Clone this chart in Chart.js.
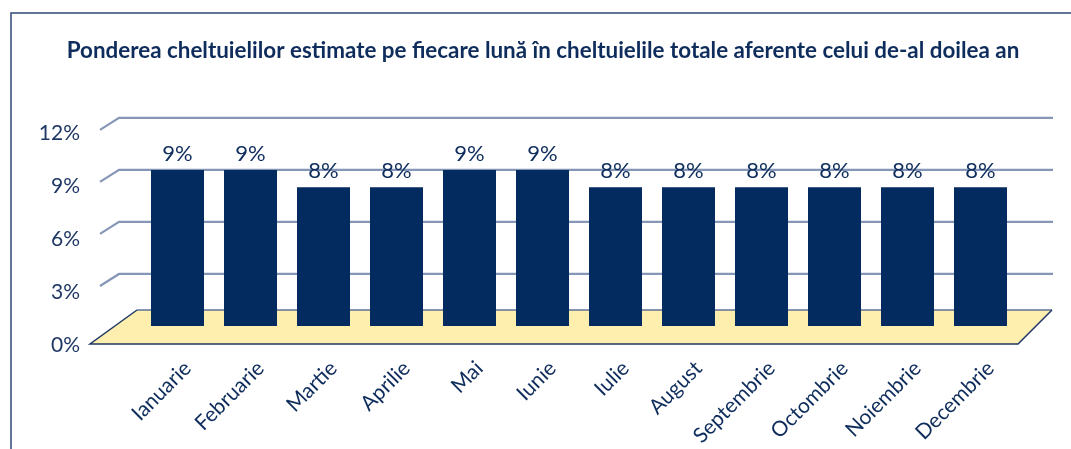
<!DOCTYPE html>
<html>
<head>
<meta charset="utf-8">
<script src="https://cdn.jsdelivr.net/npm/chart.js@4/dist/chart.umd.min.js"></script>
<style>
  html, body { margin: 0; padding: 0; background: #fff; }
  #wrap { width: 1071px; height: 449px; }
</style>
</head>
<body>
<div id="wrap"><canvas id="barChart"></canvas></div>
<script>
// DATA #######################################################################

var months = ["Ianuarie", "Februarie", "Martie", "Aprilie", "Mai", "Iunie",
              "Iulie", "August", "Septembrie", "Octombrie", "Noiembrie",
              "Decembrie"];
var shares = [9, 9, 8, 8, 9, 9, 8, 8, 8, 8, 8, 8];
var yTicks = [0, 3, 6, 9, 12];
var chartTitle = "Ponderea cheltuielilor estimate pe fiecare lună în cheltuielile totale aferente celui de-al doilea an";

var navy = "#0f2d5c";
var barColor = "#032b5f";
var gridColor = "#8596b6";

// 3D look: back wall, floor, labels ##########################################

var wall3d = {
    id: "wall3d",
    beforeDatasetsDraw: function (chart) {
        var ctx = chart.ctx;
        var area = chart.chartArea;
        var y = chart.scales.y;
        var y0 = y.getPixelForValue(0);

        ctx.save();

        // frame (only top and left edges are visible)
        ctx.strokeStyle = "#2f4a78";
        ctx.lineWidth = 1.5;
        ctx.beginPath();
        ctx.moveTo(11, 449);
        ctx.lineTo(11, 13);
        ctx.lineTo(1071, 13);
        ctx.stroke();

        // back wall gridlines + side wall slants
        ctx.strokeStyle = gridColor;
        ctx.lineWidth = 2.2;
        yTicks.forEach(function (v) {
            if (v === 0) return;
            var py = y.getPixelForValue(v);
            ctx.beginPath();
            ctx.moveTo(area.left - 41, py + 12);
            ctx.lineTo(area.left - 22, py);
            ctx.lineTo(area.right + 36, py);
            ctx.stroke();
        });

        // floor
        var back = y0 - 16, front = y0 + 18;
        ctx.fillStyle = "#ffefae";
        ctx.beginPath();
        ctx.moveTo(area.left - 4, back);
        ctx.lineTo(area.right + 35, back);
        ctx.lineTo(area.right + 1, front);
        ctx.lineTo(area.left - 51, front);
        ctx.closePath();
        ctx.fill();

        ctx.lineWidth = 1.5;
        ctx.strokeStyle = "#5d7196";
        ctx.beginPath();
        ctx.moveTo(area.left - 4, back);
        ctx.lineTo(area.right + 35, back);
        ctx.stroke();

        ctx.strokeStyle = "#1f3864";
        ctx.beginPath();
        ctx.moveTo(area.right + 35, back);
        ctx.lineTo(area.right + 1, front);
        ctx.lineTo(area.left - 51, front);
        ctx.lineTo(area.left - 4, back);
        ctx.stroke();

        ctx.restore();
    },
    afterDatasetsDraw: function (chart) {
        var ctx = chart.ctx;
        var y = chart.scales.y;
        var meta = chart.getDatasetMeta(0);

        ctx.save();
        ctx.fillStyle = navy;

        // value labels above the bars
        ctx.font = "22px Lato";
        ctx.textAlign = "center";
        ctx.textBaseline = "middle";
        meta.data.forEach(function (bar, i) {
            ctx.fillText(shares[i] + "%", bar.x, bar.y - 16);
        });

        // value axis labels on the front edge
        ctx.font = "21px Lato";
        ctx.fillStyle = "#1f3864";
        ctx.textAlign = "right";
        yTicks.forEach(function (v) {
            var py = y.getPixelForValue(v) + 15 + (12 - v) / 3;
            ctx.fillText(v + "%", 80, py);
        });
        ctx.restore();
    }
};

// BAR CHART ##################################################################

var ctx_bar = document.getElementById("barChart");

var data = {
    labels: months,
    datasets: [
        {
            label: "Pondere",
            data: shares,
            backgroundColor: barColor,
            borderWidth: 0,
            barPercentage: 0.726,
            categoryPercentage: 1.0
        }
    ]
};

var barChart = new Chart(ctx_bar, {
    type: "bar",
    data: data,
    plugins: [wall3d],
    options: {
        responsive: true,
        maintainAspectRatio: false,
        animation: false,
        layout: {
            padding: { left: 15, right: 0, top: 0, bottom: 0 }
        },
        plugins: {
            legend: { display: false },
            tooltip: { enabled: false },
            title: {
                display: true,
                text: chartTitle,
                color: navy,
                font: { family: "Lato", size: 22.4, weight: "bold" },
                padding: { top: 37, bottom: 54 }
            }
        },
        scales: {
            x: {
                grid: { display: false },
                border: { display: false },
                ticks: {
                    color: navy,
                    font: { family: "Lato", size: 21 },
                    minRotation: 45,
                    maxRotation: 45,
                    padding: 22,
                    labelOffset: 10
                },
                afterFit: function (scale) {
                    scale.height = 123;
                }
            },
            y: {
                min: 0,
                max: 12,
                grid: { display: false },
                border: { display: false },
                ticks: { display: false, stepSize: 3 },
                afterFit: function (scale) {
                    scale.width = 126;
                }
            },
            // empty right-hand axis, only keeps room for the side of the floor
            y2: {
                position: "right",
                grid: { display: false },
                border: { display: false },
                ticks: { display: false },
                afterFit: function (scale) {
                    scale.width = 54;
                }
            }
        }
    }
});
</script>
</body>
</html>
